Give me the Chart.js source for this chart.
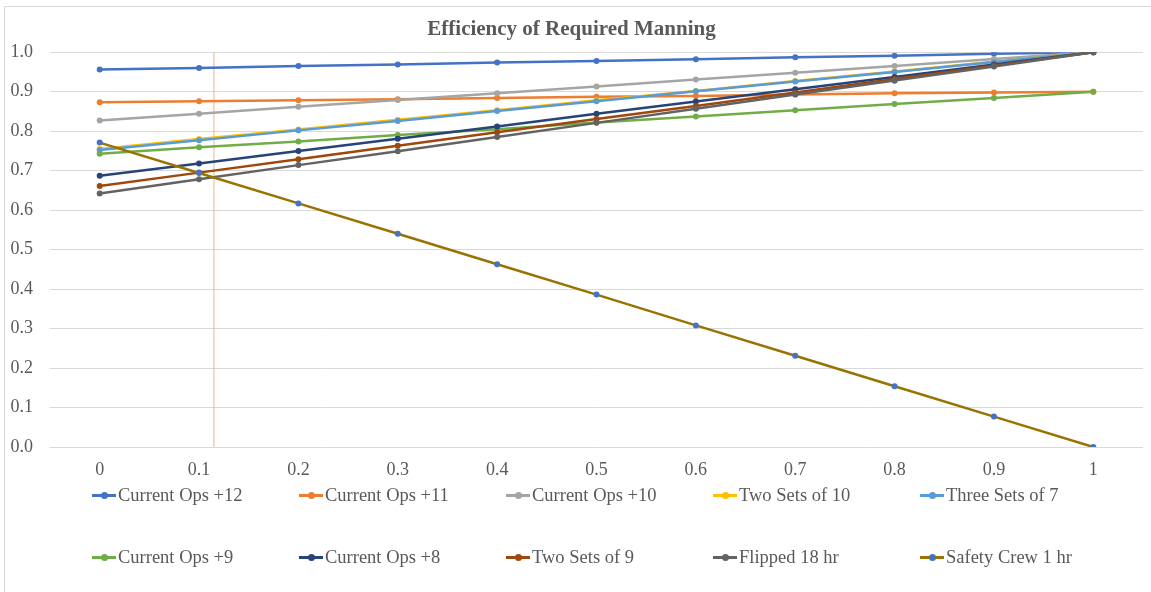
<!DOCTYPE html>
<html>
<head>
<meta charset="utf-8">
<script src="https://cdn.jsdelivr.net/npm/chart.js@4/dist/chart.umd.min.js"></script>
<style>
  html, body { margin: 0; padding: 0; background: #fff; overflow: hidden; }
  #wrap { position: relative; width: 1151px; height: 592px; }
  #frame { position: absolute; left: 4px; top: 6px; width: 1160px; height: 600px; border: 1px solid #d9d9d9; box-sizing: border-box; }
  #chart_box { position: absolute; left: 0; top: 0; width: 1151px; height: 592px; }
  #legend { position: absolute; left: 0; top: 0; width: 1151px; height: 592px; pointer-events: none;
    font-family: "Liberation Serif", "Times New Roman", serif; font-size: 18.5px; color: #595959; }
  .item { position: absolute; height: 22px; line-height: 22px; white-space: nowrap; }
  .sw { position: absolute; left: 0; top: 10px; width: 24px; height: 3px; }
  .dot { position: absolute; left: 9px; top: -2px; width: 7px; height: 7px; border-radius: 50%; }
  .txt { position: absolute; left: 26px; top: 0; }
</style>
</head>
<body>
<div id="wrap">
  <div id="frame"></div>
  <div id="chart_box"><canvas id="chart_manning"></canvas></div>
  <div id="legend"></div>
</div>
<script>
// x categories (as shown on the axis)
var xLabels = ['0', '0.1', '0.2', '0.3', '0.4', '0.5', '0.6', '0.7', '0.8', '0.9', '1']
var xValues = xLabels.map(Number)

// series
var currentOps12 = [0.956, 0.960, 0.965, 0.969, 0.974, 0.978, 0.982, 0.987, 0.991, 0.996, 1.000]
var currentOps11 = [0.873, 0.876, 0.878, 0.881, 0.884, 0.887, 0.889, 0.893, 0.896, 0.898, 0.900]
var currentOps10 = [0.827, 0.844, 0.862, 0.879, 0.896, 0.913, 0.931, 0.948, 0.965, 0.983, 1.000]
var twoSetsOf10  = [0.755, 0.780, 0.804, 0.829, 0.853, 0.878, 0.902, 0.927, 0.951, 0.976, 1.000]
var threeSetsOf7 = [0.752, 0.777, 0.802, 0.826, 0.851, 0.876, 0.901, 0.926, 0.950, 0.975, 1.000]
var currentOps9  = [0.743, 0.759, 0.774, 0.790, 0.805, 0.822, 0.837, 0.853, 0.869, 0.884, 0.900]
var currentOps8  = [0.687, 0.718, 0.750, 0.781, 0.812, 0.844, 0.875, 0.906, 0.937, 0.969, 1.000]
var twoSetsOf9   = [0.661, 0.695, 0.729, 0.763, 0.797, 0.831, 0.864, 0.898, 0.932, 0.966, 1.000]
var flipped18hr  = [0.642, 0.678, 0.714, 0.749, 0.785, 0.821, 0.857, 0.893, 0.928, 0.964, 1.000]
var safetyCrew1h = [0.771, 0.694, 0.617, 0.540, 0.463, 0.386, 0.308, 0.231, 0.154, 0.077, 0.000]

// thin vertical reference line
var markerX = 0.115
var markerY = [0, 1]

var yTicks = [0, 0.1, 0.2, 0.3, 0.4, 0.5, 0.6, 0.7, 0.8, 0.9, 1.0]

var series = [
  {label: 'Current Ops +12', data: currentOps12, color: '#4472C4'},
  {label: 'Current Ops +11', data: currentOps11, color: '#ED7D31'},
  {label: 'Current Ops +10', data: currentOps10, color: '#A5A5A5'},
  {label: 'Two Sets of 10', data: twoSetsOf10, color: '#FFC000'},
  {label: 'Three Sets of 7', data: threeSetsOf7, color: '#5B9BD5'},
  {label: 'Current Ops +9', data: currentOps9, color: '#70AD47'},
  {label: 'Current Ops +8', data: currentOps8, color: '#264478'},
  {label: 'Two Sets of 9', data: twoSetsOf9, color: '#9E480E'},
  {label: 'Flipped 18 hr', data: flipped18hr, color: '#636363'},
  {label: 'Safety Crew 1 hr', data: safetyCrew1h, color: '#997300', point: '#4472C4'}
]

var datasets = series.map(function (s, i) {
  return {
    label: s.label,
    data: s.data.map(function (v, j) { return {x: xValues[j], y: v} }),
    borderColor: s.color,
    backgroundColor: s.point || s.color,
    pointBackgroundColor: s.point || s.color,
    pointBorderColor: s.point || s.color,
    borderWidth: 2.5,
    pointRadius: 3,
    pointBorderWidth: 0,
    tension: 0,
    fill: false,
    order: series.length - i
  }
})

datasets.push({
  label: 'marker',
  data: markerY.map(function (v) { return {x: markerX, y: v} }),
  borderColor: '#F4B183',
  borderWidth: 1,
  pointRadius: 0,
  fill: false,
  order: 100
})

var ctx = document.getElementById('chart_manning').getContext('2d')
var serif = '"Liberation Serif", "Times New Roman", serif'

var mychart = new Chart(ctx, {
  type: 'line',
  data: {datasets: datasets},
  options: {
    responsive: true,
    maintainAspectRatio: false,
    animation: false,
    layout: {padding: {left: 0, right: 8, top: 0, bottom: 105}},
    plugins: {
      legend: {display: false},
      tooltip: {enabled: false},
      title: {
        display: true,
        text: 'Efficiency of Required Manning',
        color: '#595959',
        font: {family: serif, size: 21, weight: 'bold'},
        padding: {top: 17, bottom: 10}
      }
    },
    scales: {
      x: {
        type: 'linear',
        min: -0.05,
        max: 1.05,
        afterBuildTicks: function (scale) {
          scale.ticks = xValues.map(function (v) { return {value: v} })
        },
        afterFit: function (scale) { scale.height = 40 },
        grid: {display: false, drawTicks: false},
        border: {display: false},
        ticks: {
          color: '#595959',
          font: {family: serif, size: 18},
          padding: 12,
          maxRotation: 0,
          callback: function (v, i) { return xLabels[i] }
        }
      },
      y: {
        min: 0,
        max: 1,
        afterBuildTicks: function (scale) {
          scale.ticks = yTicks.map(function (v) { return {value: v} })
        },
        afterFit: function (scale) { scale.width = 50 },
        grid: {color: '#d9d9d9', lineWidth: 1, drawTicks: false},
        border: {display: false},
        ticks: {
          color: '#595959',
          font: {family: serif, size: 18},
          padding: 17,
          callback: function (v) { return Number(v).toFixed(1) }
        }
      }
    }
  }
})

// legend, laid out in 5 even columns like the original
var legendBox = document.getElementById('legend')
series.forEach(function (s, i) {
  var col = i % 5
  var row = Math.floor(i / 5)
  var item = document.createElement('div')
  item.className = 'item'
  item.style.left = (92 + col * 207) + 'px'
  item.style.top = (484 + row * 62) + 'px'
  item.innerHTML = '<span class="sw" style="background:' + s.color + '"><span class="dot" style="background:' +
    (s.point || s.color) + '"></span></span><span class="txt">' + s.label + '</span>'
  legendBox.appendChild(item)
})
</script>
</body>
</html>
